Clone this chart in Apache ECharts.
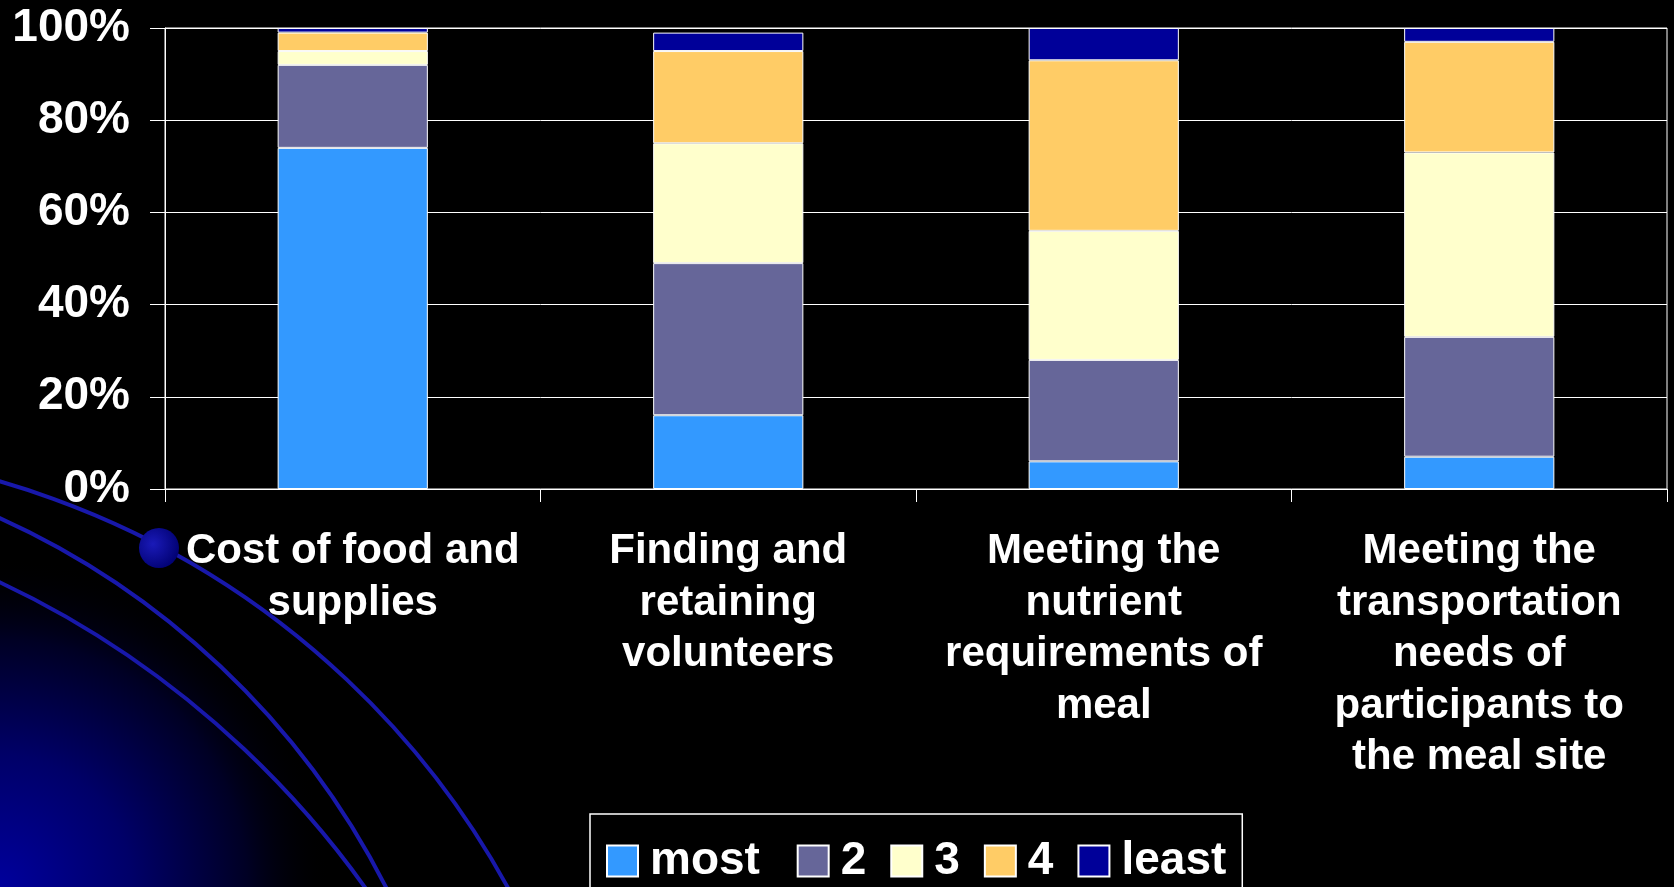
<!DOCTYPE html>
<html><head><meta charset="utf-8">
<script src="https://cdn.jsdelivr.net/npm/echarts@6/dist/echarts.min.js"></script>
<style>html,body{margin:0;padding:0;background:#000;overflow:hidden}#c{width:1674px;height:887px;}</style>
</head><body><div id="c"></div>
<script>
// ---- data ----
const categories = [
  'Cost of food and\nsupplies',
  'Finding and\nretaining\nvolunteers',
  'Meeting the\nnutrient\nrequirements of\nmeal',
  'Meeting the\ntransportation\nneeds of\nparticipants to\nthe meal site'
];
const seriesNames = ['most', '2', '3', '4', 'least'];
const mostValues  = [74, 16, 6, 7];
const rank2Values = [18, 33, 22, 26];
const rank3Values = [3, 26, 28, 40];
const rank4Values = [4, 20, 37, 24];
const leastValues = [1, 4, 7, 3];
const yTickValues = [0, 20, 40, 60, 80, 100];
const colors = ['#3399FF', '#666699', '#FFFFCC', '#FFCC66', '#000099'];

const FONT = '"Liberation Sans", Arial, sans-serif';
const allValues = [mostValues, rank2Values, rank3Values, rank4Values, leastValues];

const chart = echarts.init(document.getElementById('c'), null, {renderer: 'canvas'});
chart.setOption({
  backgroundColor: '#000',
  animation: false,
  graphic: [
    { type: 'circle', z: -20, silent: true,
      shape: { cx: 0, cy: 887, r: 330 },
      style: { fill: new echarts.graphic.RadialGradient(0.5, 0.5, 0.5, [
        { offset: 0, color: '#00009c' },
        { offset: 0.4, color: '#000068' },
        { offset: 0.75, color: '#000024' },
        { offset: 1, color: 'rgba(0,0,0,0)' }
      ]) } },
    { type: 'arc', z: -10, silent: true,
      shape: { cx: -236, cy: 1297, r: 849, startAngle: -1.6, endAngle: 0, clockwise: true },
      style: { stroke: '#1818aa', lineWidth: 4, fill: null } },
    { type: 'arc', z: -10, silent: true,
      shape: { cx: -334, cy: 1254, r: 808, startAngle: -1.6, endAngle: 0, clockwise: true },
      style: { stroke: '#1818aa', lineWidth: 4, fill: null } },
    { type: 'arc', z: -10, silent: true,
      shape: { cx: -403, cy: 1435, r: 943, startAngle: -1.6, endAngle: 0, clockwise: true },
      style: { stroke: '#1818aa', lineWidth: 4, fill: null } },
    { type: 'circle', z: -5, silent: true,
      shape: { cx: 159, cy: 548, r: 20 },
      style: { fill: new echarts.graphic.RadialGradient(0.35, 0.4, 0.7, [
        { offset: 0, color: '#1a1ab8' },
        { offset: 1, color: '#000070' }
      ]) } }
  ],
  grid: {
    left: 165, right: 7, top: 28, bottom: 398,
    show: true, borderColor: '#fff', borderWidth: 1, backgroundColor: 'transparent'
  },
  legend: {
    data: seriesNames,
    left: 590, top: 814,
    padding: [24, 16, 30, 16],
    borderColor: '#fff', borderWidth: 1.5,
    itemWidth: 31, itemHeight: 31, itemGap: 24,
    icon: 'rect',
    formatter: n => n === 'most' ? 'most ' : n,
    textStyle: { color: '#fff', fontSize: 46, fontWeight: 'bold', fontFamily: FONT, padding: [0, 0, 0, 7] }
  },
  xAxis: {
    type: 'category',
    data: categories,
    axisLine: { show: true, lineStyle: { color: '#fff', width: 1 } },
    axisTick: { show: true, length: 13, lineStyle: { color: '#fff', width: 1 } },
    axisLabel: {
      interval: 0, margin: 37, color: '#fff', fontSize: 42, fontWeight: 'bold',
      fontFamily: FONT, lineHeight: 51.5, align: 'center'
    },
    splitLine: { show: false }
  },
  yAxis: {
    type: 'value', min: 0, max: 100, interval: 20,
    axisLine: { show: true, lineStyle: { color: '#fff', width: 1 } },
    axisTick: { show: true, length: 15, lineStyle: { color: '#fff', width: 1 } },
    axisLabel: {
      margin: 35, color: '#fff', fontSize: 46, fontWeight: 'bold', fontFamily: FONT,
      formatter: v => (yTickValues.indexOf(v) >= 0 ? v + '%' : '')
    },
    splitLine: { show: true, lineStyle: { color: '#fff', width: 1 } }
  },
  series: seriesNames.map((name, i) => ({
    name: name,
    type: 'bar',
    stack: 'total',
    barWidth: '40%',
    data: allValues[i],
    itemStyle: { color: colors[i], borderColor: '#fff', borderWidth: 1 },
    emphasis: { disabled: true }
  }))
});
</script></body></html>
